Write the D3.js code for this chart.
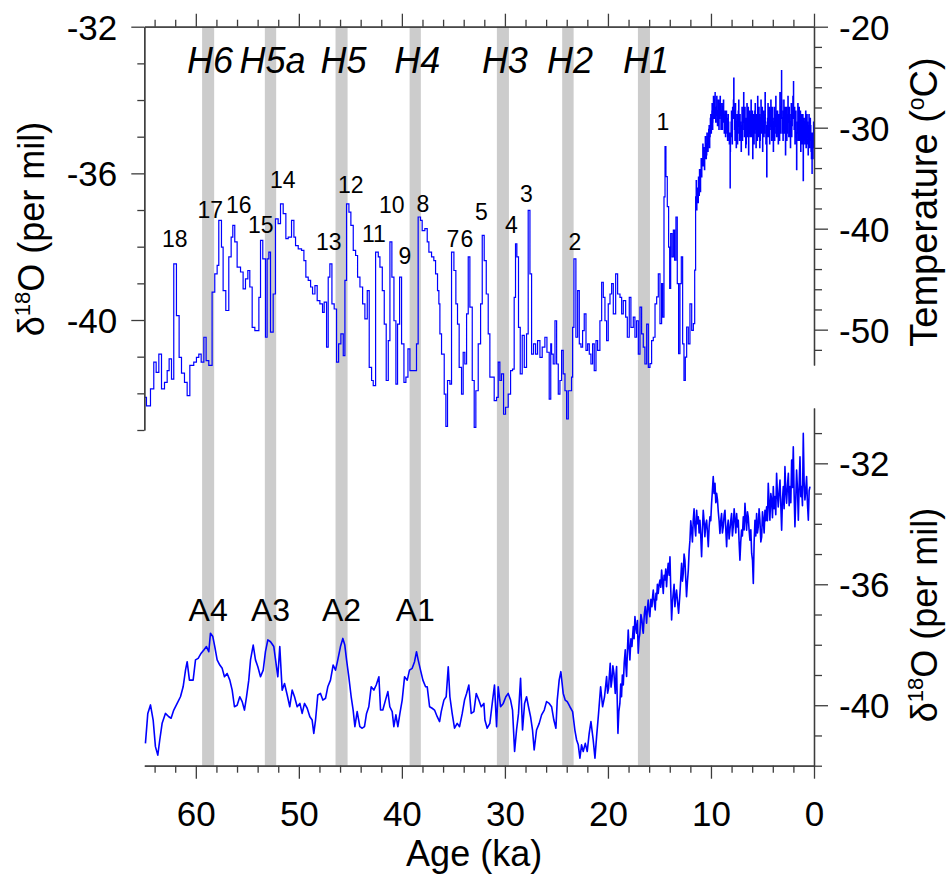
<!DOCTYPE html>
<html>
<head>
<meta charset="utf-8">
<script src="https://cdn.jsdelivr.net/npm/d3@7"></script>
<style>
  body { margin: 0; background: #fff; }
  svg text { font-family: "Liberation Sans", Arial, Helvetica, sans-serif; fill: #000; }
</style>
</head>
<body>
<svg id="chart" width="947" height="874"></svg>
<script>
// ---------- Heinrich events (ka) ----------
const heinrichNames = ["H6", "H5a", "H5", "H4", "H3", "H2", "H1"];
const heinrichStart = [59.39, 53.30, 46.44, 39.25, 30.78, 24.44, 17.09];
const heinrichEnd   = [58.22, 52.20, 45.27, 38.16, 29.61, 23.33, 15.92];

// Antarctic warm events, drawn over the first four Heinrich bands
const antarcticNames = ["A4", "A3", "A2", "A1"];

// Dansgaard-Oeschger interstadial numbers: label, age (ka), anchor δ18O
const doNames  = ["18","17","16","15","14","13","12","11","10","9","8","7","6","5","4","3","2","1"];
const doAges   = [62.04,58.59,55.83,53.69,51.55,47.09,44.95,42.72,40.97,39.71,37.96,35.05,33.69,32.28,29.37,27.91,23.20,14.66];
const doValues = [-38.01,-37.23,-37.09,-37.64,-36.41,-38.10,-36.54,-37.88,-37.09,-38.46,-37.06,-38.02,-38.02,-37.28,-37.64,-36.79,-38.10,-34.82];

// ---------- Axis ticks ----------
const ageMajor = [60, 50, 40, 30, 20, 10, 0];
const ageMinor = [64, 62, 58, 56, 54, 52, 48, 46, 44, 42, 38, 36, 34, 32, 28, 26, 24, 22, 18, 16, 14, 12, 8, 6, 4, 2];
const gispMajor = [-32, -36, -40];
const gispMinor = [-33, -34, -35, -37, -38, -39, -41, -42, -43];
const tempMajor = [-20, -30, -40, -50];
const tempMinor = [-22, -24, -26, -28, -32, -34, -36, -38, -42, -44, -46, -48, -52];
const byrdMajor = [-32, -36, -40];
const byrdMinor = [-31, -33, -34, -35, -37, -38, -39, -41, -42];

// ---------- Greenland (GISP2) δ18O, glacial part: [age ka, per mil] ----------
const gispGlacial = [
[64.95,-42.11],[64.79,-42.34],[64.40,-41.88],[64.08,-41.15],[63.85,-41.43],[63.59,-40.93],[63.33,-41.88],[63.04,-41.70],
[62.78,-41.38],[62.59,-41.06],[62.36,-41.61],[62.14,-38.47],[61.88,-39.88],[61.62,-41.02],[61.39,-41.45],[61.10,-41.70],
[60.84,-42.06],[60.58,-41.24],[60.20,-41.15],[59.94,-41.02],[59.71,-40.93],[59.48,-41.15],[59.22,-40.47],[59.00,-41.11],
[58.74,-41.24],[58.42,-39.24],[58.16,-38.74],[57.93,-38.51],[57.77,-37.28],[57.51,-38.01],[57.35,-39.20],[57.09,-39.74],
[56.80,-38.28],[56.57,-37.74],[56.41,-37.42],[56.22,-37.87],[55.99,-38.56],[55.66,-38.69],[55.41,-39.15],[55.18,-38.88],
[54.95,-38.65],[54.76,-39.10],[54.53,-40.20],[54.27,-40.29],[53.88,-39.38],[53.72,-37.83],[53.50,-38.33],[53.24,-40.47],
[53.08,-38.33],[52.91,-38.15],[52.75,-40.33],[52.49,-39.29],[52.27,-37.24],[52.01,-37.37],[51.78,-36.83],[51.52,-37.10],
[51.26,-37.78],[51.03,-37.74],[50.71,-37.28],[50.48,-37.74],[50.32,-37.97],[50.06,-38.06],[49.74,-38.10],[49.51,-38.38],
[49.32,-38.83],[49.09,-38.92],[48.86,-39.10],[48.67,-39.29],[48.44,-39.06],[48.22,-39.47],[47.96,-39.56],[47.70,-39.79],
[47.54,-39.51],[47.31,-40.74],[47.15,-38.83],[46.99,-38.47],[46.79,-39.56],[46.57,-39.70],[46.34,-41.15],[46.14,-40.65],
[45.92,-40.38],[45.69,-40.97],[45.53,-38.92],[45.37,-36.83],[45.14,-37.06],[44.95,-37.42],[44.72,-38.10],[44.49,-38.24],
[44.30,-38.83],[44.07,-39.10],[43.81,-39.56],[43.59,-39.97],[43.36,-39.20],[43.17,-41.29],[42.94,-41.65],[42.78,-41.79],
[42.55,-38.15],[42.29,-38.28],[42.13,-38.56],[41.90,-39.20],[41.71,-40.11],[41.52,-41.65],[41.32,-40.56],[41.16,-37.87],
[40.97,-38.83],[40.77,-40.02],[40.58,-41.75],[40.42,-40.11],[40.22,-38.83],[40.03,-40.65],[39.80,-41.70],[39.61,-41.56],
[39.41,-40.79],[39.22,-41.38],[38.73,-41.38],[38.58,-40.65],[38.42,-37.19],[38.19,-37.28],[38.03,-37.56],[37.77,-37.51],
[37.54,-37.87],[37.38,-38.15],[37.12,-38.28],[36.90,-38.38],[36.73,-38.74],[36.54,-39.20],[36.41,-39.56],[36.31,-40.38],
[36.15,-40.93],[35.89,-42.02],[35.73,-42.90],[35.57,-41.65],[35.34,-41.75],[35.18,-38.15],[34.95,-38.65],[34.76,-39.56],
[34.60,-40.11],[34.44,-41.29],[34.21,-42.02],[34.05,-40.88],[33.89,-41.20],[33.72,-39.83],[33.56,-38.28],[33.40,-39.65],
[33.17,-41.65],[32.98,-42.93],[32.82,-41.93],[32.59,-40.65],[32.36,-39.56],[32.20,-37.69],[32.01,-38.38],[31.81,-39.29],
[31.62,-40.38],[31.46,-41.56],[31.23,-41.56],[31.04,-42.20],[30.81,-42.11],[30.65,-41.15],[30.49,-41.65],[30.33,-41.47],
[30.13,-42.57],[29.94,-42.38],[29.68,-42.02],[29.45,-41.38],[29.26,-41.34],[29.10,-39.38],[28.97,-37.92],[28.84,-38.28],
[28.68,-40.20],[28.51,-41.47],[28.32,-40.42],[28.12,-41.29],[27.90,-40.38],[27.74,-37.01],[27.57,-38.74],[27.41,-40.93],
[27.22,-40.65],[27.02,-40.93],[26.83,-40.56],[26.60,-41.02],[26.38,-40.74],[26.12,-40.47],[25.92,-40.88],[25.70,-42.16],
[25.55,-40.65],[25.47,-40.93],[25.31,-41.20],[25.14,-40.02],[24.98,-41.20],[24.82,-42.02],[24.66,-41.65],[24.50,-40.83],
[24.34,-41.47],[24.17,-41.93],[24.01,-42.70],[23.85,-41.93],[23.69,-41.93],[23.53,-41.56],[23.43,-40.20],[23.30,-38.33],
[23.11,-40.47],[22.94,-39.20],[22.78,-40.65],[22.62,-40.74],[22.46,-40.29],[22.30,-39.83],[22.13,-40.83],[21.97,-40.65],
[21.81,-40.93],[21.65,-41.20],[21.49,-40.65],[21.33,-41.38],[21.16,-40.56],[21.00,-40.83],[20.78,-40.02],[20.61,-38.97],
[20.45,-39.38],[20.29,-40.02],[20.13,-40.56],[19.97,-39.56],[19.80,-39.29],[19.64,-39.01],[19.48,-39.83],[19.25,-38.74],
[19.06,-39.29],[18.83,-39.38],[18.67,-39.83],[18.51,-39.47],[18.28,-39.92],[18.12,-40.47],[17.93,-39.38],[17.77,-40.20],
[17.54,-39.92],[17.38,-40.47],[17.22,-40.02],[17.05,-40.93],[16.89,-39.65],[16.73,-40.38],[16.57,-40.74],[16.41,-41.20],
[16.24,-40.11],[16.08,-41.29],[15.92,-41.19],[15.76,-40.56],[15.60,-40.47],[15.43,-39.56],[15.27,-39.37],[15.11,-38.74],
[14.95,-40.10],[14.79,-39.01],[14.69,-39.92],[14.56,-36.64],[14.46,-35.27],[14.37,-36.09],[14.24,-36.91],[14.11,-38.01],
[14.01,-39.14],[13.91,-37.64],[13.78,-38.28],[13.65,-37.55],[13.53,-38.37],[13.40,-37.19],[13.27,-39.01],[13.14,-40.92],
[13.01,-39.01],[12.88,-38.28],[12.75,-40.65],[12.62,-41.65],[12.49,-41.01],[12.36,-40.19],[12.20,-40.65],[12.04,-39.56],
[11.87,-40.28],[11.71,-40.10],[11.58,-38.64]
];

// ---------- Greenland (GISP2) δ18O, Holocene part ----------
const gispHolocene = [
[11.49,-36.64],[11.44,-36.20],[11.40,-37.00],[11.36,-36.70],[11.32,-36.40],[11.27,-36.80],[11.22,-36.10],[11.19,-36.40],
[11.16,-36.60],[11.12,-35.90],[11.08,-36.20],[11.04,-36.50],[11.00,-35.90],[10.96,-35.60],[10.92,-36.10],[10.88,-35.80],
[10.84,-35.60],[10.80,-35.20],[10.76,-35.80],[10.72,-35.30],[10.68,-35.40],[10.64,-35.90],[10.60,-35.60],[10.56,-35.00],
[10.52,-35.20],[10.48,-35.60],[10.44,-35.50],[10.40,-34.90],[10.35,-35.00],[10.31,-35.40],[10.27,-35.20],[10.23,-34.80],
[10.19,-34.70],[10.15,-35.30],[10.11,-35.00],[10.07,-34.50],[10.03,-34.40],[9.99,-34.90],[9.95,-34.70],[9.92,-34.30],
[9.90,-34.10],[9.86,-34.80],[9.82,-34.60],[9.80,-34.20],[9.77,-33.90],[9.73,-34.30],[9.70,-34.50],[9.65,-34.00],
[9.61,-33.80],[9.58,-34.30],[9.55,-34.60],[9.50,-34.20],[9.45,-33.90],[9.41,-34.40],[9.38,-34.70],[9.33,-34.30],
[9.29,-34.00],[9.24,-34.80],[9.20,-34.50],[9.16,-34.10],[9.12,-33.90],[9.08,-34.40],[9.04,-34.80],[9.00,-34.30],
[8.96,-34.10],[8.92,-34.80],[8.88,-34.60],[8.84,-34.20],[8.80,-34.00],[8.76,-34.60],[8.72,-34.90],[8.68,-34.40],
[8.64,-34.30],[8.60,-35.00],[8.56,-34.80],[8.52,-34.30],[8.48,-34.50],[8.44,-34.90],[8.40,-35.10],[8.35,-34.40],
[8.31,-34.60],[8.27,-35.00],[8.23,-35.20],[8.19,-34.90],[8.15,-36.40],[8.12,-35.40],[8.10,-35.00],[8.06,-34.60],
[8.02,-34.30],[7.98,-34.90],[7.95,-35.20],[7.91,-34.20],[7.87,-34.50],[7.83,-34.00],[7.80,-33.40],[7.76,-34.30],
[7.72,-34.80],[7.68,-35.10],[7.64,-34.10],[7.60,-34.60],[7.56,-35.30],[7.52,-34.70],[7.48,-34.40],[7.44,-35.20],
[7.40,-34.90],[7.36,-34.30],[7.32,-34.00],[7.28,-34.70],[7.24,-35.10],[7.20,-34.40],[7.16,-34.60],[7.12,-35.00],
[7.08,-35.40],[7.04,-34.70],[7.00,-34.20],[6.96,-35.10],[6.92,-34.80],[6.88,-34.30],[6.84,-33.80],[6.80,-34.60],
[6.76,-35.00],[6.72,-34.20],[6.68,-34.50],[6.64,-35.30],[6.60,-35.20],[6.56,-34.50],[6.52,-34.10],[6.48,-35.00],
[6.44,-34.80],[6.40,-34.20],[6.36,-35.50],[6.32,-34.90],[6.28,-34.30],[6.24,-34.70],[6.20,-35.00],[6.16,-34.40],
[6.12,-34.00],[6.08,-35.00],[6.04,-34.70],[6.00,-34.30],[5.96,-35.60],[5.92,-34.90],[5.88,-34.40],[5.84,-35.20],
[5.80,-34.90],[5.76,-34.30],[5.72,-34.10],[5.68,-34.80],[5.64,-35.30],[5.60,-34.40],[5.56,-34.60],[5.52,-35.10],
[5.48,-33.90],[5.44,-34.50],[5.40,-35.00],[5.36,-34.20],[5.32,-34.40],[5.28,-35.30],[5.24,-35.10],[5.20,-34.50],
[5.16,-34.00],[5.12,-34.90],[5.08,-34.80],[5.04,-34.20],[5.00,-35.40],[4.96,-34.80],[4.92,-34.30],[4.88,-35.00],
[4.84,-34.90],[4.80,-34.40],[4.76,-33.80],[4.72,-34.60],[4.68,-35.20],[4.64,-34.70],[4.60,-36.10],[4.56,-35.00],
[4.52,-34.50],[4.48,-34.10],[4.44,-35.00],[4.40,-34.60],[4.36,-34.20],[4.32,-35.20],[4.28,-34.80],[4.24,-34.30],
[4.20,-34.00],[4.16,-34.70],[4.12,-35.10],[4.08,-34.20],[4.04,-34.50],[4.00,-35.00],[3.96,-35.40],[3.92,-34.60],
[3.88,-34.20],[3.84,-35.10],[3.80,-34.90],[3.76,-34.40],[3.72,-33.90],[3.68,-34.70],[3.64,-35.00],[3.60,-34.30],
[3.56,-34.30],[3.52,-34.90],[3.48,-35.20],[3.44,-34.40],[3.40,-34.60],[3.36,-35.10],[3.32,-33.80],[3.28,-34.50],
[3.24,-34.90],[3.20,-34.20],[3.16,-33.20],[3.13,-34.00],[3.10,-34.50],[3.06,-34.90],[3.02,-35.10],[2.98,-34.30],
[2.94,-34.00],[2.90,-34.90],[2.86,-34.80],[2.82,-34.20],[2.78,-35.50],[2.74,-34.60],[2.70,-34.20],[2.66,-35.10],
[2.62,-34.90],[2.58,-34.40],[2.54,-33.90],[2.50,-34.60],[2.46,-35.00],[2.42,-34.20],[2.38,-34.40],[2.34,-35.00],
[2.30,-35.30],[2.26,-34.60],[2.22,-34.10],[2.18,-35.00],[2.14,-34.70],[2.10,-34.30],[2.06,-33.90],[2.03,-34.50],
[2.00,-33.50],[1.97,-34.40],[1.94,-34.80],[1.90,-34.20],[1.86,-35.20],[1.82,-34.60],[1.78,-34.30],[1.74,-35.00],
[1.70,-35.90],[1.66,-34.90],[1.62,-34.60],[1.58,-34.10],[1.54,-35.10],[1.50,-34.60],[1.46,-34.20],[1.42,-35.10],
[1.38,-34.90],[1.34,-34.30],[1.30,-35.40],[1.26,-34.80],[1.22,-34.40],[1.18,-35.20],[1.14,-35.00],[1.10,-34.40],
[1.06,-36.20],[1.02,-35.10],[0.98,-34.50],[0.94,-34.90],[0.90,-35.20],[0.86,-34.60],[0.82,-34.30],[0.78,-35.30],
[0.74,-35.00],[0.70,-34.40],[0.66,-34.60],[0.62,-35.20],[0.58,-35.50],[0.54,-34.70],[0.50,-34.40],[0.46,-35.30],
[0.42,-35.10],[0.38,-34.50],[0.34,-34.70],[0.30,-35.40],[0.26,-35.60],[0.23,-34.90],[0.20,-36.00],[0.17,-35.20],
[0.14,-34.90],[0.11,-35.60],[0.08,-35.30],[0.05,-34.60],[0.02,-34.80]
];

// ---------- Antarctic (Byrd) δ18O: [age ka, per mil] ----------
const byrd = [
[64.89,-41.26],[64.66,-40.27],[64.40,-39.99],[64.14,-40.49],[63.92,-41.37],[63.69,-41.65],[63.50,-41.15],[63.27,-40.60],
[62.95,-40.27],[62.62,-40.38],[62.40,-40.43],[62.14,-40.16],[61.81,-39.94],[61.49,-39.72],[61.23,-39.39],[61.00,-38.84],
[60.84,-38.56],[60.62,-39.17],[60.26,-39.17],[60.03,-38.50],[59.77,-38.45],[59.48,-38.28],[59.22,-38.17],[58.97,-38.06],
[58.74,-38.23],[58.58,-37.62],[58.35,-37.73],[58.16,-38.06],[57.93,-38.50],[57.67,-38.67],[57.44,-38.78],[57.22,-39.06],
[56.96,-38.95],[56.70,-39.17],[56.47,-39.50],[56.25,-40.05],[55.99,-40.00],[55.73,-39.72],[55.50,-39.88],[55.28,-40.16],
[55.08,-39.72],[54.86,-39.17],[54.69,-38.50],[54.43,-38.01],[54.21,-38.50],[53.98,-38.73],[53.72,-39.06],[53.46,-38.84],
[53.24,-38.23],[53.01,-37.84],[52.75,-37.90],[52.43,-38.06],[52.17,-38.73],[52.04,-39.06],[51.85,-38.06],[51.62,-39.50],
[51.39,-39.28],[51.13,-39.66],[50.88,-40.05],[50.65,-39.50],[50.42,-39.72],[50.16,-40.05],[49.90,-39.94],[49.68,-40.27],
[49.45,-39.94],[49.19,-40.10],[48.93,-40.38],[48.71,-40.49],[48.55,-40.93],[48.38,-40.49],[48.16,-39.66],[47.90,-39.61],
[47.67,-39.83],[47.41,-39.77],[47.19,-39.39],[46.93,-39.17],[46.67,-38.67],[46.44,-38.84],[46.22,-38.50],[45.96,-38.06],
[45.73,-37.79],[45.54,-38.01],[45.37,-38.50],[45.15,-39.06],[44.92,-39.72],[44.73,-40.16],[44.56,-40.71],[44.34,-40.21],
[44.08,-40.71],[43.85,-40.76],[43.63,-40.71],[43.43,-40.27],[43.21,-40.05],[42.98,-39.39],[42.72,-39.50],[42.49,-39.33],
[42.23,-39.06],[42.07,-40.16],[41.85,-40.16],[41.59,-39.83],[41.36,-39.55],[41.17,-40.05],[40.94,-40.21],[40.78,-40.71],
[40.58,-40.32],[40.39,-40.71],[40.19,-40.27],[39.97,-39.83],[39.74,-39.06],[39.48,-39.17],[39.26,-38.84],[39.00,-38.78],
[38.77,-38.56],[38.58,-38.23],[38.42,-38.50],[38.19,-38.84],[37.96,-39.17],[37.70,-39.39],[37.54,-39.39],[37.31,-40.05],
[37.06,-40.10],[36.83,-40.16],[36.57,-40.38],[36.34,-40.54],[36.18,-40.21],[35.92,-39.83],[35.70,-39.72],[35.50,-38.73],
[35.34,-39.72],[35.12,-40.27],[34.89,-40.76],[34.63,-40.60],[34.40,-40.71],[34.14,-40.27],[33.92,-39.83],[33.72,-39.61],
[33.50,-39.33],[33.27,-40.27],[33.01,-40.21],[32.78,-39.61],[32.53,-39.83],[32.30,-40.05],[32.04,-39.94],[31.94,-40.49],
[31.72,-40.76],[31.46,-40.60],[31.23,-39.94],[31.01,-39.33],[30.81,-40.71],[30.65,-39.39],[30.42,-40.05],[30.16,-39.94],
[29.91,-39.72],[29.68,-39.61],[29.45,-39.83],[29.26,-40.16],[29.06,-41.53],[28.87,-40.82],[28.68,-40.27],[28.48,-39.11],
[28.29,-40.82],[28.09,-39.94],[27.90,-39.72],[27.71,-40.05],[27.51,-40.38],[27.32,-40.82],[27.16,-41.48],[26.93,-40.82],
[26.67,-40.60],[26.44,-40.32],[26.18,-40.16],[25.96,-39.88],[25.70,-39.94],[25.47,-40.05],[25.25,-40.49],[25.05,-40.76],
[24.92,-39.83],[24.73,-39.16],[24.57,-38.89],[24.34,-39.61],[24.15,-39.83],[23.95,-39.88],[23.69,-40.05],[23.43,-40.21],
[23.21,-40.82],[23.04,-41.15],[22.88,-41.31],[22.72,-41.75],[22.56,-41.31],[22.40,-41.53],[22.20,-41.26],[22.01,-41.53],
[21.82,-40.93],[21.65,-40.54],[21.43,-41.15],[21.26,-41.75],[21.10,-41.04],[20.91,-40.27],[20.71,-39.39],[20.52,-40.05],
[20.33,-39.72],[20.13,-39.05],[20.03,-39.60],[19.94,-39.44],[19.86,-39.00],[19.78,-38.61],[19.70,-39.40],[19.61,-39.16],
[19.52,-38.70],[19.42,-38.94],[19.35,-39.30],[19.29,-39.61],[19.22,-39.00],[19.16,-38.72],[19.10,-39.80],[19.03,-40.93],
[18.94,-40.20],[18.84,-39.94],[18.76,-39.30],[18.68,-39.72],[18.60,-39.00],[18.51,-39.33],[18.42,-38.60],[18.32,-38.17],
[18.26,-38.70],[18.19,-39.05],[18.11,-38.20],[18.03,-37.51],[17.95,-38.10],[17.87,-38.50],[17.77,-37.80],[17.67,-38.06],
[17.60,-37.70],[17.54,-37.40],[17.46,-37.80],[17.38,-37.07],[17.30,-37.40],[17.22,-37.62],[17.14,-37.20],[17.06,-38.28],
[16.98,-37.80],[16.90,-37.62],[16.80,-37.00],[16.70,-37.18],[16.63,-37.50],[16.57,-37.62],[16.47,-37.00],[16.38,-36.74],
[16.31,-37.00],[16.25,-37.29],[16.17,-36.80],[16.09,-36.52],[16.01,-36.90],[15.93,-37.07],[15.83,-36.50],[15.73,-36.74],
[15.66,-36.40],[15.60,-36.19],[15.50,-36.60],[15.41,-36.85],[15.34,-36.30],[15.28,-36.52],[15.20,-36.00],[15.12,-36.30],
[15.03,-36.00],[14.95,-35.86],[14.87,-36.10],[14.79,-35.53],[14.71,-35.90],[14.63,-36.30],[14.55,-35.70],[14.47,-35.86],
[14.39,-35.50],[14.31,-36.08],[14.23,-35.60],[14.15,-35.31],[14.06,-35.70],[13.98,-35.09],[13.90,-36.20],[13.82,-37.18],
[13.74,-36.60],[13.66,-36.30],[13.58,-36.00],[13.50,-36.74],[13.42,-36.40],[13.34,-36.19],[13.24,-36.60],[13.14,-36.96],
[13.07,-36.60],[13.01,-36.30],[12.93,-35.80],[12.85,-35.31],[12.77,-35.90],[12.69,-35.64],[12.61,-35.00],[12.53,-35.20],
[12.45,-35.80],[12.37,-36.41],[12.28,-35.90],[12.20,-35.53],[12.12,-34.90],[12.04,-34.54],[11.96,-33.90],[11.88,-34.21],
[11.80,-34.60],[11.72,-33.88],[11.64,-33.50],[11.56,-34.10],[11.48,-34.40],[11.39,-33.55],[11.31,-34.00],[11.23,-33.77],
[11.15,-34.30],[11.07,-33.88],[10.99,-34.40],[10.91,-35.09],[10.83,-34.20],[10.75,-33.55],[10.67,-33.90],[10.59,-34.43],
[10.50,-34.00],[10.42,-33.88],[10.34,-34.30],[10.26,-34.76],[10.18,-34.10],[10.10,-33.77],[10.02,-33.90],[9.94,-33.32],
[9.86,-32.90],[9.78,-32.44],[9.70,-33.00],[9.61,-32.66],[9.53,-33.30],[9.45,-32.99],[9.37,-33.20],[9.29,-33.60],
[9.21,-33.90],[9.13,-34.32],[9.05,-33.90],[8.97,-33.66],[8.89,-34.30],[8.81,-34.10],[8.72,-33.70],[8.64,-33.55],
[8.56,-34.20],[8.48,-34.76],[8.40,-34.10],[8.32,-33.88],[8.24,-34.50],[8.16,-34.21],[8.08,-33.90],[8.00,-33.66],
[7.92,-34.40],[7.84,-34.10],[7.75,-33.50],[7.67,-33.88],[7.59,-34.30],[7.51,-33.66],[7.43,-34.10],[7.35,-33.88],
[7.27,-34.60],[7.19,-35.20],[7.11,-34.60],[7.03,-34.21],[6.95,-34.40],[6.86,-33.77],[6.78,-34.20],[6.70,-33.32],
[6.62,-33.80],[6.54,-34.21],[6.46,-33.60],[6.38,-33.77],[6.30,-34.20],[6.22,-34.54],[6.13,-34.20],[6.05,-34.98],
[5.97,-35.20],[5.89,-35.97],[5.81,-34.60],[5.73,-33.88],[5.65,-34.40],[5.57,-33.66],[5.49,-34.30],[5.41,-34.10],
[5.33,-33.50],[5.25,-33.88],[5.16,-34.60],[5.08,-34.43],[5.00,-33.60],[4.92,-33.88],[4.84,-34.30],[4.76,-33.55],
[4.68,-33.90],[4.60,-33.44],[4.52,-33.90],[4.44,-32.66],[4.36,-33.30],[4.28,-33.88],[4.19,-33.00],[4.11,-33.21],
[4.03,-33.80],[3.95,-32.77],[3.87,-33.50],[3.79,-33.10],[3.71,-33.70],[3.63,-32.33],[3.55,-33.00],[3.47,-33.44],
[3.38,-32.90],[3.30,-32.55],[3.22,-33.40],[3.14,-34.21],[3.06,-33.20],[2.98,-32.77],[2.90,-33.50],[2.82,-32.11],
[2.74,-32.90],[2.66,-33.32],[2.57,-32.70],[2.49,-32.33],[2.41,-33.40],[2.33,-32.77],[2.25,-33.30],[2.17,-31.89],
[2.09,-32.80],[2.01,-31.45],[1.93,-33.00],[1.85,-34.10],[1.77,-33.20],[1.69,-32.22],[1.60,-32.90],[1.52,-33.88],
[1.44,-32.70],[1.36,-31.78],[1.28,-33.10],[1.20,-32.77],[1.12,-33.40],[1.04,-31.01],[0.96,-32.60],[0.88,-33.21],
[0.80,-32.90],[0.72,-32.44],[0.64,-33.30],[0.55,-33.88],[0.47,-32.90],[0.39,-32.77]
];

// ---------- Layout ----------
const svg = d3.select("#chart");
const AXIS = "#3c3c3c";
const FONT = '"Liberation Sans", Arial, Helvetica, sans-serif';

const x     = d3.scaleLinear().domain([65, 0]).range([144.3, 814]);
const yGisp = d3.scaleLinear().domain([-43, -32]).range([430, 26.7]);
const yTemp = d3.scaleLinear().domain([-53.5, -20]).range([365, 26.7]);
const yByrd = d3.scaleLinear().domain([-42, -30.17]).range([765.7, 408]);

const bandTop = yGisp(-32), bandBottom = yByrd(-42);

// Heinrich bands
svg.append("g").selectAll("rect")
  .data(heinrichNames.map((n, i) => ({ n, a: heinrichStart[i], b: heinrichEnd[i] })))
  .join("rect")
  .attr("x", d => x(d.a))
  .attr("width", d => x(d.b) - x(d.a))
  .attr("y", bandTop)
  .attr("height", bandBottom - bandTop)
  .attr("fill", "#cccccc");

// Greenland curve (stepped record)
const gispAll = gispGlacial.concat(gispHolocene);
svg.append("path")
  .datum(gispAll)
  .attr("fill", "none")
  .attr("stroke", "#0000ff")
  .attr("stroke-width", 1.2)
  .attr("stroke-linejoin", "miter")
  .attr("d", d3.line().x(d => x(d[0])).y(d => yGisp(d[1])).curve(d3.curveStepAfter));

// Byrd curve
svg.append("path")
  .datum(byrd)
  .attr("fill", "none")
  .attr("stroke", "#0000ff")
  .attr("stroke-width", 1.6)
  .attr("stroke-linejoin", "round")
  .attr("d", d3.line().x(d => x(d[0])).y(d => yByrd(d[1])));

// ---------- Axes ----------
function styleAxis(g, size) {
  g.select(".domain").attr("stroke", AXIS).attr("stroke-width", 1.3);
  g.selectAll(".tick line").attr("stroke", AXIS).attr("stroke-width", 1.3);
  g.attr("font-family", FONT).attr("font-size", size);
  g.selectAll(".tick text").attr("fill", "#000");
}
function addAxis(make, tr, major, minor, majorLen, minorLen, pad, labels) {
  const gMin = svg.append("g").attr("transform", tr)
    .call(make().tickValues(minor).tickSize(minorLen).tickSizeOuter(0).tickFormat(""));
  styleAxis(gMin, 35);
  const gMaj = svg.append("g").attr("transform", tr)
    .call(make().tickValues(major).tickSize(majorLen).tickSizeOuter(0).tickPadding(pad)
      .tickFormat(labels ? (d => String(d)) : ""));
  styleAxis(gMaj, 35);
  return gMaj;
}

// top age axis (no labels)
addAxis(() => d3.axisTop(x), `translate(0,${yGisp(-32)})`, ageMajor, ageMinor, 13, 7, 0, false);
// bottom age axis
const gBottom = addAxis(() => d3.axisBottom(x), `translate(0,${yByrd(-42)})`, ageMajor, ageMinor, 13, 7, 22, true);
gBottom.selectAll(".tick text").attr("dy", "0.71em");
// left δ18O (Greenland)
const gLeft = addAxis(() => d3.axisLeft(yGisp), `translate(${x(65)},0)`, gispMajor, gispMinor, 13, 7, 14, true);
gLeft.selectAll(".tick text").attr("dy", "0.36em");
// right temperature
const gTemp = addAxis(() => d3.axisRight(yTemp), `translate(${x(0)},0)`, tempMajor, tempMinor, 14, 8, 11, true);
gTemp.selectAll(".tick text").attr("dy", "0.36em");
// right δ18O (Byrd)
const gByrd = addAxis(() => d3.axisRight(yByrd), `translate(${x(0)},0)`, byrdMajor, byrdMinor, 14, 8, 11, true);
gByrd.selectAll(".tick text").attr("dy", "0.36em");

// ---------- Axis titles ----------
function deltaTitle(cx, cy) {
  const t = svg.append("text")
    .attr("transform", `translate(${cx},${cy}) rotate(-90)`)
    .attr("text-anchor", "middle")
    .attr("font-size", 36);
  t.append("tspan").text("δ");
  t.append("tspan").attr("font-size", 22).attr("dy", -14).text("18");
  t.append("tspan").attr("dy", 14).text("O (per mil)");
}
deltaTitle(44, 229);
deltaTitle(937, 615);

const tTemp = svg.append("text")
  .attr("transform", `translate(937,202) rotate(-90)`)
  .attr("text-anchor", "middle")
  .attr("font-size", 38);
tTemp.append("tspan").text("Temperature (");
tTemp.append("tspan").attr("font-size", 23).attr("dy", -13).text("o");
tTemp.append("tspan").attr("dy", 13).text("C)");

svg.append("text")
  .attr("x", x(32.5) - 5)
  .attr("y", 866)
  .attr("text-anchor", "middle")
  .attr("font-size", 36)
  .text("Age (ka)");

// ---------- Event labels ----------
svg.append("g").selectAll("text")
  .data(heinrichNames.map((n, i) => ({ n, c: (heinrichStart[i] + heinrichEnd[i]) / 2 })))
  .join("text")
  .attr("x", d => x(d.c) + 2)
  .attr("y", yGisp(-33.27))
  .attr("text-anchor", "middle")
  .attr("font-size", 36)
  .attr("font-style", "italic")
  .text(d => d.n);

svg.append("g").selectAll("text")
  .data(antarcticNames.map((n, i) => ({ n, c: (heinrichStart[i] + heinrichEnd[i]) / 2 })))
  .join("text")
  .attr("x", d => x(d.c))
  .attr("y", yByrd(-37.21))
  .attr("text-anchor", "middle")
  .attr("font-size", 32)
  .text(d => d.n);

svg.append("g").selectAll("text")
  .data(doNames.map((n, i) => ({ n, a: doAges[i], v: doValues[i] })))
  .join("text")
  .attr("x", d => x(d.a))
  .attr("y", d => yGisp(d.v))
  .attr("text-anchor", "middle")
  .attr("font-size", 23)
  .text(d => d.n);
</script>
</body>
</html>
